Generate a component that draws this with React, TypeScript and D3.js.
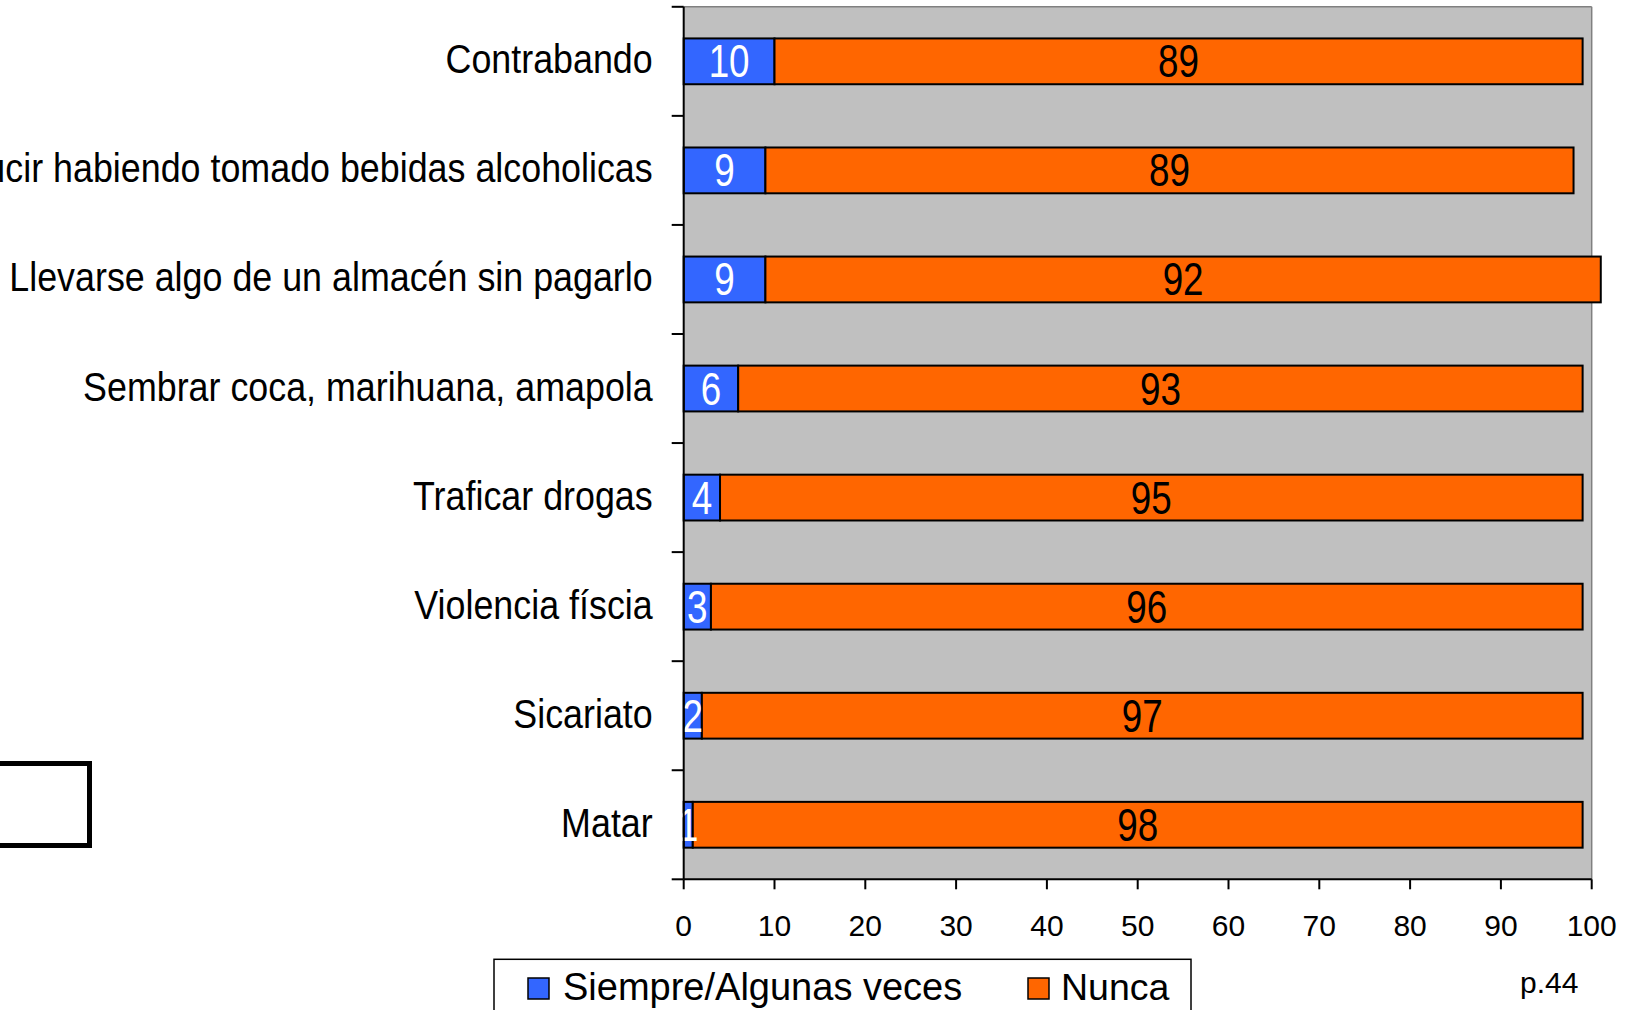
import React from "react";
import * as d3 from "d3";

const categories = [
  "Contrabando",
  "Conducir habiendo tomado bebidas alcoholicas",
  "Llevarse algo de un almacén sin pagarlo",
  "Sembrar coca, marihuana, amapola",
  "Traficar drogas",
  "Violencia físcia",
  "Sicariato",
  "Matar",
];
const siempre = [10, 9, 9, 6, 4, 3, 2, 1];
const nunca = [89, 89, 92, 93, 95, 96, 97, 98];
const xTicks = [0, 10, 20, 30, 40, 50, 60, 70, 80, 90, 100];
const seriesNames = ["Siempre/Algunas veces", "Nunca"];
const seriesColors = ["#3366ff", "#ff6600"];
const note = "p.44";

const W = 1637;
const H = 1010;
const PL = 683.7;
const PR = 1591.7;
const PT = 6.8;
const PB = 879.3;

export default function App() {
  const x = d3.scaleLinear().domain([0, 100]).range([PL, PR]);
  const y = d3
    .scaleBand<string>()
    .domain(categories)
    .range([PT, PB])
    .paddingInner(0.58)
    .paddingOuter(0.29);
  const bw = y.bandwidth();
  const step = y.step();
  const boundaries = d3.range(categories.length + 1).map((i) => PT + i * step);
  const font = "'Liberation Sans', Arial, sans-serif";

  return (
    <svg
      width={W}
      height={H}
      style={{ position: "absolute", left: 0, top: 0, display: "block" }}
      fontFamily={font}
    >
      <rect x={0} y={0} width={W} height={H} fill="#ffffff" />
      {/* plot area */}
      <rect x={PL} y={PT} width={PR - PL} height={PB - PT} fill="#c0c0c0" />
      <line x1={PL} y1={PT} x2={PR} y2={PT} stroke="#808080" strokeWidth={1.5} />
      <line x1={PR} y1={PT} x2={PR} y2={PB} stroke="#808080" strokeWidth={1.5} />

      {/* bars */}
      {categories.map((c, i) => {
        const y0 = y(c)!;
        const cy = y0 + bw / 2;
        const a = siempre[i];
        const b = nunca[i];
        return (
          <g key={c}>
            <rect
              x={x(0)}
              y={y0}
              width={x(a) - x(0)}
              height={bw}
              fill={seriesColors[0]}
              stroke="#000"
              strokeWidth={2}
            />
            <rect
              x={x(a)}
              y={y0}
              width={x(a + b) - x(a)}
              height={bw}
              fill={seriesColors[1]}
              stroke="#000"
              strokeWidth={2}
            />
            <text
              transform={`translate(${x(a / 2)},${cy + 16}) scale(0.8,1)`}
              textAnchor="middle"
              fontSize={46}
              fill="#ffffff"
            >
              {a}
            </text>
            <text
              transform={`translate(${x(a + b / 2)},${cy + 16}) scale(0.8,1)`}
              textAnchor="middle"
              fontSize={46}
              fill="#000000"
            >
              {b}
            </text>
            <text
              transform={`translate(${PL - 31},${cy + 12}) scale(0.896,1)`}
              textAnchor="end"
              fontSize={40}
              fill="#000000"
            >
              {c}
            </text>
          </g>
        );
      })}

      {/* y axis */}
      <line x1={PL} y1={PT} x2={PL} y2={PB} stroke="#000" strokeWidth={2} />
      {boundaries.map((by, i) => (
        <line key={i} x1={PL - 12} y1={by} x2={PL} y2={by} stroke="#000" strokeWidth={2} />
      ))}

      {/* x axis */}
      <line x1={PL} y1={PB} x2={PR} y2={PB} stroke="#000" strokeWidth={2} />
      {xTicks.map((t) => (
        <g key={t}>
          <line x1={x(t)} y1={PB} x2={x(t)} y2={PB + 10} stroke="#000" strokeWidth={2} />
          <text x={x(t)} y={936} textAnchor="middle" fontSize={30} fill="#000">
            {t}
          </text>
        </g>
      ))}

      {/* legend */}
      <rect x={494} y={959.3} width={697} height={80} fill="#ffffff" stroke="#000" strokeWidth={1.5} />
      <rect x={528} y={978} width={21} height={21} fill={seriesColors[0]} stroke="#000" strokeWidth={1.5} />
      <text x={563} y={1000} fontSize={38} fill="#000">
        {seriesNames[0]}
      </text>
      <rect x={1028} y={978} width={21} height={21} fill={seriesColors[1]} stroke="#000" strokeWidth={1.5} />
      <text x={1061} y={1000} fontSize={37.5} fill="#000">
        {seriesNames[1]}
      </text>

      {/* note */}
      <text x={1520} y={993} fontSize={30} fill="#000">
        {note}
      </text>

      {/* stray box on the left */}
      <rect x={-20} y={763.5} width={109.5} height={82} fill="none" stroke="#000" strokeWidth={5} />
    </svg>
  );
}
